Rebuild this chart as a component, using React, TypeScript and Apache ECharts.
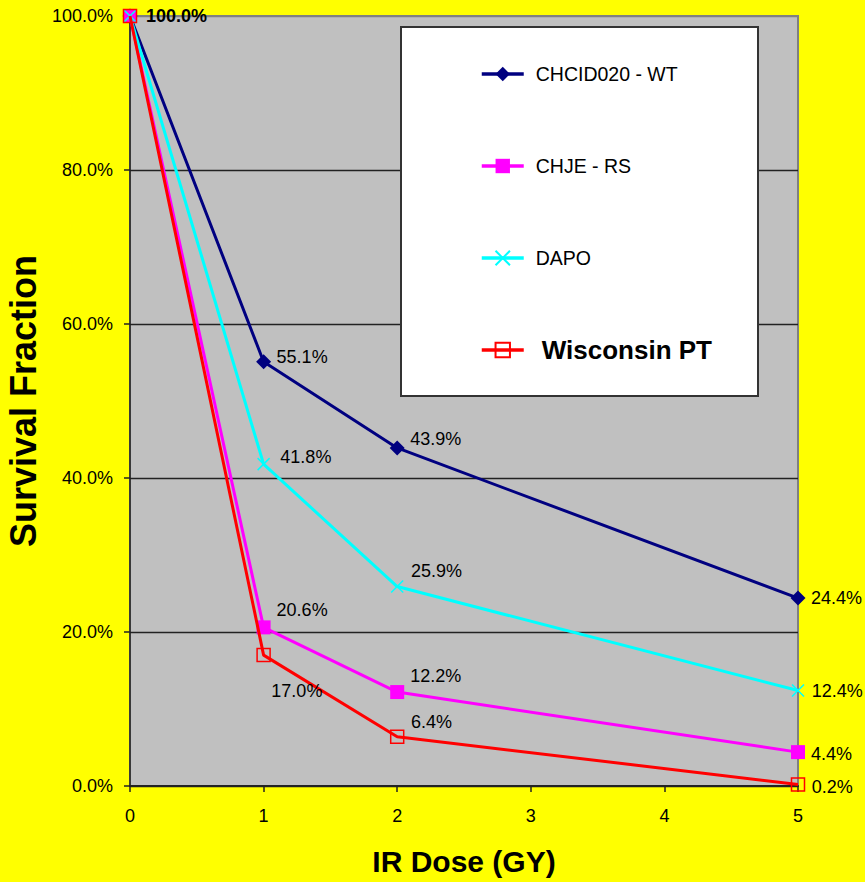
import React, { useEffect, useRef } from "react";
import * as echarts from "echarts";

const doses = [0, 1, 2, 5];
const seriesNames = ["CHCID020 - WT", "CHJE - RS", "DAPO", "Wisconsin PT"];
const wtValues = [100, 55.1, 43.9, 24.4];
const rsValues = [100, 20.6, 12.2, 4.4];
const dapoValues = [100, 41.8, 25.9, 12.4];
const wisconsinValues = [100, 17.0, 6.4, 0.2];
const yTicks = [0, 20, 40, 60, 80, 100];
const xTicks = [0, 1, 2, 3, 4, 5];

// label offsets (styling only)
const labelDy = [
  [0, -5, -9, 0],
  [0, -17, -16, 2],
  [0, -7, -16, 0],
  [0, 36, -15, 3],
];
const labelDx = [
  [3, 0, 0, 0],
  [0, 0, 0, 0],
  [0, 3, 0, 0],
  [0, -6, 0, 0],
];

const FONT = 'Arial, "Liberation Sans", Helvetica, sans-serif';

export default function App() {
  const ref = useRef<HTMLDivElement>(null);
  useEffect(() => {
    if (!ref.current) return;
    const chart = echarts.init(ref.current, null, { renderer: "svg" });
    const allValues = [wtValues, rsValues, dapoValues, wisconsinValues];
    const colors = ["#000080", "#ff00ff", "#00ffff", "#ff0000"];
    const symbols = ["diamond", "rect", "path://M0,0L10,10M10,0L0,10", "rect"];
    const symbolSizes = [15, 14, 12, 13];
    const itemStyles = [
      { color: "#000080" },
      { color: "#ff00ff" },
      { color: "#00ffff", borderColor: "#00ffff", borderWidth: 1.5 },
      { color: "rgba(0,0,0,0)", borderColor: "#ff0000", borderWidth: 1.5 },
    ];
    const series = allValues.map((vals, si) => ({
      type: "line",
      name: seriesNames[si],
      symbol: symbols[si],
      symbolSize: symbolSizes[si],
      showAllSymbol: true,
      lineStyle: { color: colors[si], width: 3 },
      itemStyle: itemStyles[si],
      z: 2 + si,
      data: vals.map((v, i) => ({
        value: [doses[i], v],
        label: {
          show: i > 0 || si === 0,
          position: "right",
          distance: 13 - symbolSizes[si] / 2,
          offset: [labelDx[si][i], labelDy[si][i]],
          fontWeight: i === 0 ? "bold" : "normal",
        },
      })),
      label: {
        show: true,
        color: "#000",
        fontSize: 18,
        fontFamily: FONT,
        formatter: (p: any) => p.value[1].toFixed(1) + "%",
      },
      emphasis: { disabled: true },
    }));

    chart.setOption({
      animation: false,
      backgroundColor: "#ffff00",
      textStyle: { fontFamily: FONT },
      grid: {
        left: 130,
        top: 16,
        width: 668,
        height: 770,
        show: true,
        containLabel: false,
        outerBoundsMode: "none",
        backgroundColor: "#c0c0c0",
        borderColor: "#808080",
        borderWidth: 2,
      },
      graphic: [
        {
          type: "rect",
          z: 3,
          shape: { x: 401, y: 27, width: 357, height: 369 },
          style: { fill: "#ffffff", stroke: "#333333", lineWidth: 2 },
        },
      ],
      legend: {
        orient: "vertical",
        left: 475,
        top: 56,
        z: 5,
        itemWidth: 42,
        itemHeight: 18,
        itemGap: 66,
        selectedMode: false,
        lineStyle: { width: 3.5 },
        textStyle: {
          fontSize: 19.5,
          color: "#000",
          fontFamily: FONT,
          lineHeight: 26,
          padding: [0, 0, 0, 7],
        },
        data: [
          { name: seriesNames[0] },
          { name: seriesNames[1] },
          { name: seriesNames[2] },
          {
            name: seriesNames[3],
            textStyle: {
              fontSize: 26,
              fontWeight: "bold",
              color: "#000",
              fontFamily: FONT,
              lineHeight: 26,
              padding: [0, 0, 0, 13],
            },
          },
        ],
      },
      xAxis: {
        type: "value",
        min: xTicks[0],
        max: xTicks[xTicks.length - 1],
        interval: 1,
        name: "IR Dose (GY)",
        nameLocation: "middle",
        nameGap: 60,
        nameTextStyle: { fontSize: 30, fontWeight: "bold", color: "#000", fontFamily: FONT },
        axisLine: { show: true, lineStyle: { color: "#222", width: 2 } },
        axisTick: { show: true, length: 6, lineStyle: { color: "#222", width: 1.5 } },
        axisLabel: { fontSize: 18, color: "#000", margin: 21, fontFamily: FONT },
        splitLine: { show: false },
      },
      yAxis: {
        type: "value",
        min: yTicks[0],
        max: yTicks[yTicks.length - 1],
        interval: 20,
        name: "Survival Fraction",
        nameLocation: "middle",
        nameRotate: 90,
        nameGap: 76,
        nameTextStyle: { fontSize: 36, fontWeight: "bold", color: "#000", fontFamily: FONT },
        axisLine: { show: true, lineStyle: { color: "#222", width: 1.5 } },
        axisTick: { show: true, length: 6, lineStyle: { color: "#222", width: 1.5 } },
        axisLabel: {
          fontSize: 18,
          color: "#000",
          margin: 17,
          fontFamily: FONT,
          formatter: (v: number) => v.toFixed(1) + "%",
        },
        splitLine: {
          show: true,
          lineStyle: {
            color: ["#222", "#222", "#222", "#222", "#222", "#808080"],
            width: 1.3,
          },
        },
      },
      series,
    });
    return () => chart.dispose();
  }, []);
  return (
    <div
      ref={ref}
      style={{ position: "absolute", left: 0, top: 0, width: 865, height: 882 }}
    />
  );
}
